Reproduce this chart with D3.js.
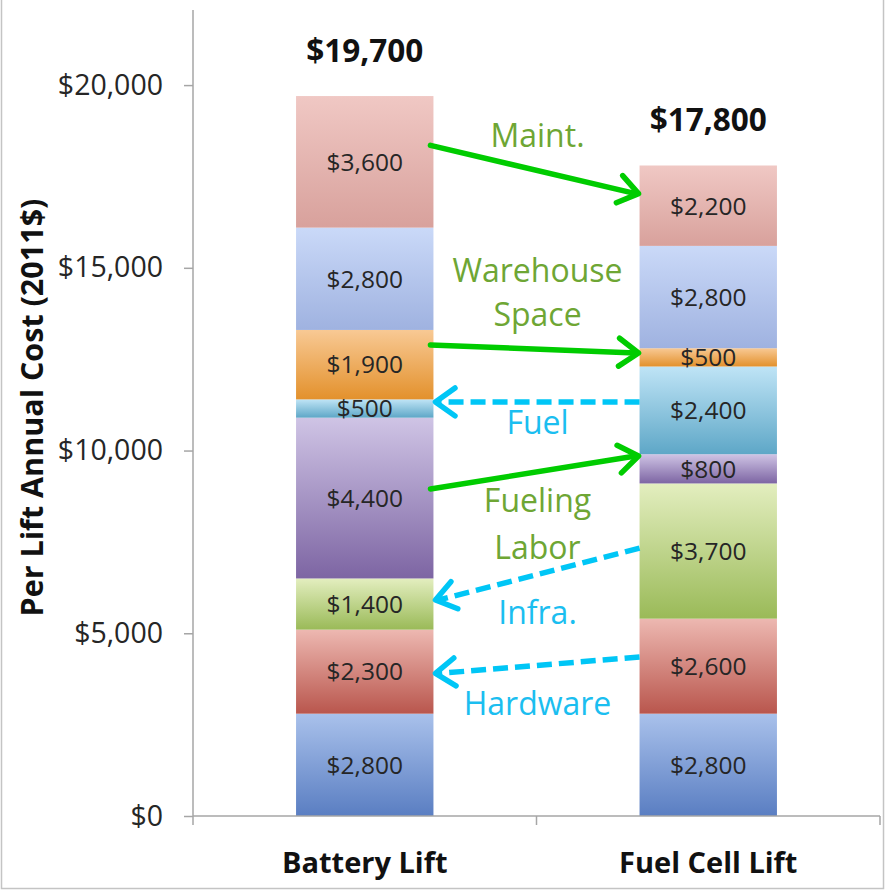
<!DOCTYPE html>
<html>
<head>
<meta charset="utf-8">
<script src="https://cdn.jsdelivr.net/npm/d3@7"></script>
<style>
  html, body { margin: 0; padding: 0; background: #fff; }
  svg { display: block; }
  text { font-family: "Open Sans", "Noto Sans", sans-serif; }
</style>
</head>
<body>
<svg id="chart" width="885" height="893"></svg>
<script>
// ---------- data ----------
const categories = ["Battery Lift", "Fuel Cell Lift"];
const seriesNames = ["Lift Truck", "Hardware", "Infra.", "Fueling Labor", "Fuel", "Warehouse Space", "Labor", "Maint."];
const batteryValues  = [2800, 2300, 1400, 4400, 500, 1900, 2800, 3600];
const fuelCellValues = [2800, 2600, 3700, 800, 2400, 500, 2800, 2200];
const totals = [19700, 17800];
const yTicks = [0, 5000, 10000, 15000, 20000];

// arrows between bars: [label lines, from value (Battery side), to value (Fuel Cell side), direction, label centre values]
const arrowLabels   = [["Maint."], ["Warehouse", "Space"], ["Fuel"], ["Fueling", "Labor"], ["Infra."], ["Hardware"]];
const arrowBattery  = [18350, 12890, 11330, 8950, 5910, 3900];
const arrowFuelCell = [17030, 12670, 11330, 9850, 7330, 4350];
const arrowToFuelCell = [true, true, false, true, false, false];
const arrowLabelY   = [[18630], [14940, 13710], [10770], [8620, 7360], [5580], [3090]];

// ---------- styles ----------
const segColors = [
  ["#a9c1eb", "#5a7ec2"],
  ["#edb8b1", "#b9564d"],
  ["#e3eebf", "#9aba58"],
  ["#cfc4e5", "#7d65a3"],
  ["#bfe4f6", "#5ea7c7"],
  ["#f8c994", "#e3912c"],
  ["#cad9f8", "#9fb2e0"],
  ["#f0c8c4", "#d8a19c"]
];
const greenArrow = "#00cc00", cyanArrow = "#00c6f6";
const greenText = "#6ea634", cyanText = "#1bbef0";

const svg = d3.select("#chart");
const defs = svg.append("defs");

// frame
svg.append("rect").attr("x", 1.5).attr("y", -3).attr("width", 882).attr("height", 891.5)
  .attr("fill", "none").attr("stroke", "#c4c4c4").attr("stroke-width", 1.5);

const x = d3.scaleBand().domain(categories).range([193, 880]).paddingInner(0.6).paddingOuter(0.3);
const y = d3.scaleLinear().domain([0, 22000]).range([816, 12]);

const table = categories.map((c, i) => {
  const row = { category: c };
  const vals = i === 0 ? batteryValues : fuelCellValues;
  seriesNames.forEach((s, j) => row[s] = vals[j]);
  return row;
});
const stacked = d3.stack().keys(seriesNames)(table);

seriesNames.forEach((s, j) => {
  const g = defs.append("linearGradient").attr("id", "g" + j)
    .attr("x1", 0).attr("y1", 0).attr("x2", 0).attr("y2", 1);
  g.append("stop").attr("offset", "0%").attr("stop-color", segColors[j][0]);
  g.append("stop").attr("offset", "100%").attr("stop-color", segColors[j][1]);
});

// bars
const layer = svg.append("g").selectAll("g").data(stacked).join("g")
  .attr("fill", (d, j) => `url(#g${j})`);
layer.selectAll("rect").data(d => d).join("rect")
  .attr("x", d => x(d.data.category))
  .attr("width", x.bandwidth())
  .attr("y", d => y(d[1]))
  .attr("height", d => y(d[0]) - y(d[1]));

// segment labels
const fmt = v => "$" + d3.format(",")(v);
stacked.forEach(ser => {
  ser.forEach(d => {
    svg.append("text")
      .attr("x", x(d.data.category) + x.bandwidth() / 2)
      .attr("y", (y(d[0]) + y(d[1])) / 2)
      .attr("dy", "0.36em")
      .attr("text-anchor", "middle")
      .attr("font-size", 24.5)
      .attr("fill", "#262626")
      .text(fmt(d[1] - d[0]));
  });
});

// totals
categories.forEach((c, i) => {
  svg.append("text")
    .attr("x", x(c) + x.bandwidth() / 2)
    .attr("y", y(totals[i]) - 34)
    .attr("text-anchor", "middle")
    .attr("font-size", 31.5)
    .attr("font-weight", 700)
    .attr("fill", "#111")
    .text(fmt(totals[i]));
});

// y axis
const yAxis = svg.append("g").attr("transform", "translate(193,0)")
  .call(d3.axisLeft(y).tickValues(yTicks).tickSize(9).tickPadding(21).tickFormat(fmt));
yAxis.select(".domain").attr("d", `M0,${y.range()[1] - 2}V${y(0)}`).attr("stroke", "#a6a6a6").attr("stroke-width", 1.5);
yAxis.selectAll(".tick line").attr("stroke", "#a6a6a6").attr("stroke-width", 1.5);
yAxis.selectAll(".tick text").attr("font-size", 28.5).attr("fill", "#262626")
  .attr("font-family", "'Open Sans', sans-serif");

// x axis
const step = x.step();
const xr = x.range();
const bounds = [xr[0], x(categories[0]) + x.bandwidth() + (step - x.bandwidth()) / 2, xr[1]];
const xAxis = svg.append("g");
xAxis.append("line").attr("x1", xr[0]).attr("x2", xr[1]).attr("y1", y(0)).attr("y2", y(0))
  .attr("stroke", "#a6a6a6").attr("stroke-width", 1.5);
xAxis.selectAll("line.t").data(bounds).join("line").attr("class", "t")
  .attr("x1", d => d).attr("x2", d => d).attr("y1", y(0)).attr("y2", y(0) + 9)
  .attr("stroke", "#a6a6a6").attr("stroke-width", 1.5);
xAxis.selectAll("text").data(categories).join("text")
  .attr("x", d => x(d) + x.bandwidth() / 2)
  .attr("y", 873)
  .attr("text-anchor", "middle")
  .attr("font-size", 29)
  .attr("font-weight", 700)
  .attr("fill", "#111")
  .text(d => d);

// y axis title
svg.append("text")
  .attr("transform", `translate(43,${(195 + 620) / 2}) rotate(-90)`)
  .attr("text-anchor", "middle")
  .attr("font-size", 30.5)
  .attr("font-weight", 700)
  .attr("fill", "#111")
  .text("Per Lift Annual Cost (2011$)");

// arrows
const bx = x(categories[0]) + x.bandwidth();
const fx = x(categories[1]);
const midX = (xr[0] + xr[1]) / 2;
arrowLabels.forEach((lab, i) => {
  const toFC = arrowToFuelCell[i];
  const col = toFC ? greenArrow : cyanArrow;
  const tcol = toFC ? greenText : cyanText;
  const x0 = toFC ? bx - 3 : fx;
  const y0 = toFC ? y(arrowBattery[i]) : y(arrowFuelCell[i]);
  const x1 = toFC ? fx - 1 : bx + 2;
  const y1 = toFC ? y(arrowFuelCell[i]) : y(arrowBattery[i]);
  const g = svg.append("g").attr("stroke", col).attr("stroke-width", 5.5)
    .attr("fill", "none").attr("stroke-linecap", "round").attr("stroke-linejoin", "round");
  g.append("line").attr("x1", x0).attr("y1", y0).attr("x2", x1 + (toFC ? -3 : 3)).attr("y2", y1)
    .attr("stroke-linecap", toFC ? "round" : "butt")
    .attr("stroke-dasharray", toFC ? null : "15,7");
  const ang = Math.atan2(y1 - y0, x1 - x0);
  const L = 24, a = 0.62;
  const p1 = [x1 - L * Math.cos(ang - a), y1 - L * Math.sin(ang - a)];
  const p2 = [x1 - L * Math.cos(ang + a), y1 - L * Math.sin(ang + a)];
  g.append("path").attr("d", `M${p1[0]},${p1[1]}L${x1},${y1}L${p2[0]},${p2[1]}`);
  lab.forEach((t, k) => {
    svg.append("text")
      .attr("x", midX + 1)
      .attr("y", y(arrowLabelY[i][k]))
      .attr("dy", "0.36em")
      .attr("text-anchor", "middle")
      .attr("font-size", 32)
      .attr("fill", tcol)
      .text(t);
  });
});
</script>
</body>
</html>
